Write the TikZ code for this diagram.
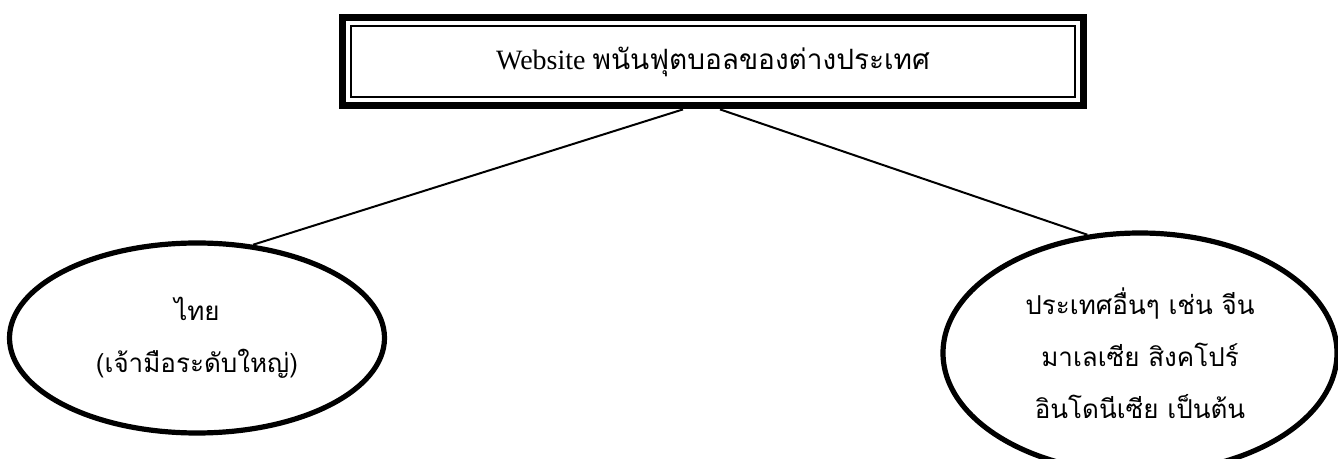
\documentclass[tikz,border=0pt]{standalone}
\usepackage{fontspec}
\setmainfont{Liberation Serif}
\newfontfamily\thaifont[Script=Thai]{Loma}
\usetikzlibrary{shapes.geometric}

\begin{document}
\begin{tikzpicture}[x=0.5pt, y=-0.5pt,
    bubble/.style={ellipse, draw, line width=2.6pt, inner sep=0pt, align=center,
        font=\thaifont\fontsize{13}{26}\selectfont},
    link/.style={draw, line width=1pt}]
    \useasboundingbox (0,0) rectangle (1338,459);

    % heading box with a thick and a thin frame
    \node (title) at (713,61.5) [minimum width=374pt, minimum height=47.5pt, inner sep=0pt,
        font=\fontsize{14}{16}\selectfont] {Website {\thaifont พนันฟุตบอลของต่างประเทศ}};
    \draw[line width=3.5pt] ([shift={(1.75pt,-1.75pt)}]title.north west) rectangle ([shift={(-1.75pt,1.75pt)}]title.south east);
    \draw[line width=1pt] ([shift={(6pt,-6pt)}]title.north west) rectangle ([shift={(-6pt,6pt)}]title.south east);

    \node[bubble, minimum width=187.5pt, minimum height=95pt] (thai) at (197,338) {ไทย\\(เจ้ามือระดับใหญ่)};
    \node[bubble, minimum width=197pt, minimum height=120pt] (others) at (1140,353) {ประเทศอื่นๆ เช่น จีน\\มาเลเซีย สิงคโปร์\\อินโดนีเซีย เป็นต้น};

    \draw[link] ([xshift=-15pt]title.south) -- (thai.59);
    \draw[link] ([xshift=3.5pt]title.south) -- (others.114);
\end{tikzpicture}
\end{document}
